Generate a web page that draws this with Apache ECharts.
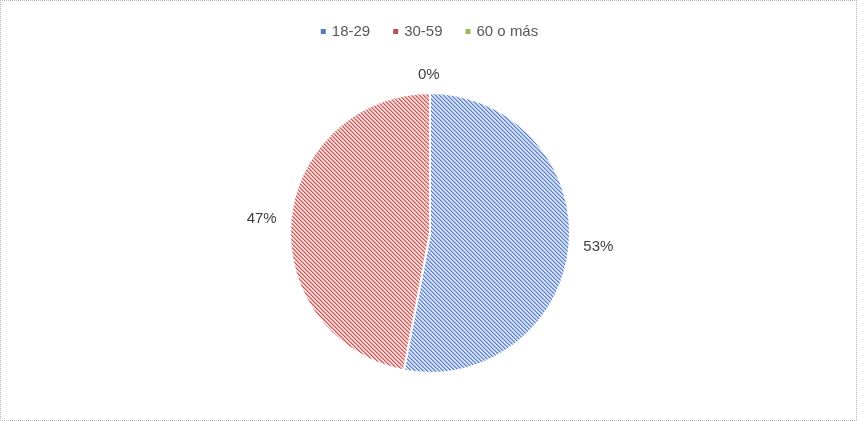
<!DOCTYPE html>
<html><head><meta charset="utf-8">
<script src="https://cdn.jsdelivr.net/npm/echarts@6/dist/echarts.min.js"></script>
<style>
html,body{margin:0;padding:0;background:#fff;}
#c{width:857px;height:421px;box-sizing:border-box;border:1px dotted #b8b8b8;}
</style></head><body>
<div id="c"></div>
<script>
const categories = ['18-29', '30-59', '60 o más'];
const values = [53, 47, 0];
const baseColors = ['#4F81BD', '#C0504D', '#9BBB59'];

function makePattern(dark, mid, light) {
  const s = 4;
  const cv = document.createElement('canvas');
  cv.width = s; cv.height = s;
  const ctx = cv.getContext('2d');
  ctx.fillStyle = light; ctx.fillRect(0, 0, s, s);
  for (let i = 0; i < s; i++) {
    ctx.fillStyle = dark; ctx.fillRect(i, i, 1, 1);
    ctx.fillStyle = mid; ctx.fillRect((i + 1) % s, i, 1, 1);
  }
  return { image: cv, repeat: 'repeat' };
}
const patterns = [
  makePattern('#5a7ec8', '#98b0e2', '#d6e0f3'),
  makePattern('#c95856', '#e49a99', '#f4d8d8'),
  makePattern('#9bbb59', '#c3d89f', '#eef4e3')
];

const chart = echarts.init(document.getElementById('c'), null, { renderer: 'canvas' });
chart.setOption({
  animation: false,
  legend: {
    top: 18, left: 'center',
    itemWidth: 7, itemHeight: 7, itemGap: 21,
    icon: 'rect',
    textStyle: { fontFamily: 'Liberation Sans, Arial', fontSize: 15, color: '#595959' },
    data: categories.map((c, i) => ({ name: c, itemStyle: { color: baseColors[i] } }))
  },
  series: [{
    type: 'pie',
    center: [429, 232],
    radius: 140,
    startAngle: 90,
    clockwise: true,
    label: {
      show: true, position: 'outside',
      formatter: '{d}%',
      fontFamily: 'Liberation Sans, Arial', fontSize: 15, color: '#404040'
    },
    labelLine: { show: false, length: 7, length2: 2 },
    itemStyle: { borderColor: '#ffffff', borderWidth: 2 },
    emphasis: { disabled: true },
    data: categories.map((c, i) => ({
      name: c, value: values[i],
      itemStyle: { color: patterns[i] },
      label: i === 2 ? { offset: [-19, -11] } : undefined
    }))
  }]
});
</script></body></html>
